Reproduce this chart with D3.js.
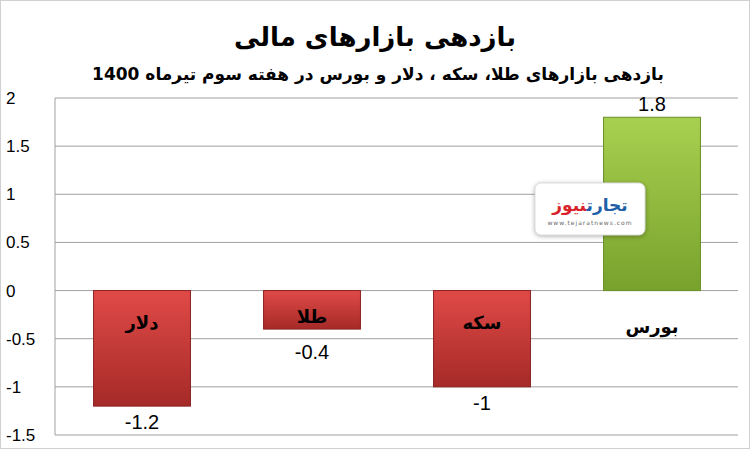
<!DOCTYPE html>
<html><head><meta charset="utf-8">
<script src="https://cdn.jsdelivr.net/npm/d3@7"></script>
<style>body{margin:0;background:#fff}</style>
</head><body>
<svg id="chart" width="750" height="449"></svg>
<script>
const categories = ["دلار", "طلا", "سکه", "بورس"];
const values = [-1.2, -0.4, -1, 1.8];
const valueLabels = ["-1.2", "-0.4", "-1", "1.8"];
const yTicks = [-1.5, -1, -0.5, 0, 0.5, 1, 1.5, 2];

const svg = d3.select("#chart");
const x = d3.scaleBand().domain(categories).range([57, 737]).paddingInner(0.43).paddingOuter(0.215);
const y = d3.scaleLinear().domain([-1.5, 2]).range([435, 98]);

const defs = svg.append("defs");
function grad(id, c1, c2) {
  const g = defs.append("linearGradient").attr("id", id).attr("x1", 0).attr("x2", 0).attr("y1", 0).attr("y2", 1);
  g.append("stop").attr("offset", "0%").attr("stop-color", c1);
  g.append("stop").attr("offset", "100%").attr("stop-color", c2);
}
grad("red", "#e04a47", "#a52a28");
grad("green", "#a8d050", "#78a22c");

svg.append("rect").attr("x", 0.5).attr("y", 0.5).attr("width", 749).attr("height", 448)
  .attr("fill", "#fff").attr("stroke", "#d0d0d0");

svg.append("text").attr("x", 375).attr("y", 46).attr("text-anchor", "middle")
  .attr("font-family", "DejaVu Sans").attr("font-weight", "bold").attr("font-size", 26)
  .text("بازدهی بازارهای مالی");
svg.append("text").attr("x", 378).attr("y", 80).attr("text-anchor", "middle")
  .attr("font-family", "DejaVu Sans").attr("font-weight", "bold").attr("font-size", 17)
  .text("بازدهی بازارهای طلا، سکه ، دلار و بورس در هفته سوم تیرماه 1400");

// gridlines
svg.append("g").selectAll("line").data(yTicks).join("line")
  .attr("x1", 55).attr("x2", 738).attr("y1", d => y(d)).attr("y2", d => y(d))
  .attr("stroke", "#a0a0a0").attr("stroke-width", 1);
svg.append("line").attr("x1", 55).attr("x2", 55).attr("y1", y(2)).attr("y2", y(-1.5)).attr("stroke", "#a0a0a0");

const yAxis = svg.append("g").attr("transform", "translate(50,0)")
  .call(d3.axisLeft(y).tickValues(yTicks).tickSize(0).tickPadding(4).tickFormat(d => String(d)));
yAxis.select(".domain").remove();
yAxis.selectAll("text").attr("font-family", "Liberation Sans").attr("font-size", 17).attr("fill", "#000")
  .attr("text-anchor", "start").attr("x", -44);

const bars = svg.append("g").selectAll("g").data(categories).join("g");
bars.append("rect")
  .attr("x", d => x(d)).attr("width", x.bandwidth())
  .attr("y", (d, i) => y(Math.max(0, values[i])))
  .attr("height", (d, i) => Math.abs(y(values[i]) - y(0)))
  .attr("fill", (d, i) => values[i] < 0 ? "url(#red)" : "url(#green)")
  .attr("stroke", (d, i) => values[i] < 0 ? "#8a2220" : "#6a8f25").attr("stroke-width", 1);

bars.append("text")
  .attr("x", d => x(d) + x.bandwidth() / 2)
  .attr("y", (d, i) => values[i] < 0 ? Math.max(y(values[i]) + 23, y(0) + 68) : y(values[i]) - 6)
  .attr("text-anchor", "middle").attr("font-family", "Liberation Sans").attr("font-size", 20)
  .text((d, i) => valueLabels[i]);

bars.append("text")
  .attr("x", d => x(d) + x.bandwidth() / 2)
  .attr("y", (d, i) => values[i] < 0 ? y(0) + 38 - (values[i] > -0.5 ? 6 : 0) : y(0) + 42)
  .attr("text-anchor", "middle").attr("font-family", "DejaVu Sans").attr("font-weight", "bold").attr("font-size", 18)
  .text(d => d);

// logo
const logo = svg.append("g").attr("transform", "translate(535,183)");
logo.append("rect").attr("width", 110).attr("height", 52).attr("rx", 6).attr("fill", "#fff")
  .attr("stroke", "#ddd").style("filter", "drop-shadow(0 1px 2px rgba(0,0,0,0.3))");
logo.append("text").attr("x", 55).attr("y", 28).attr("text-anchor", "middle")
  .attr("font-family", "DejaVu Sans").attr("font-weight", "bold").attr("font-size", 17)
  .html('<tspan fill="#1f5fa8">تجارت</tspan><tspan fill="#d8232a">نیوز</tspan>');
logo.append("text").attr("x", 55).attr("y", 42).attr("text-anchor", "middle")
  .attr("font-family", "DejaVu Sans").attr("font-size", 6).attr("fill", "#666")
  .attr("letter-spacing", 1).text("www.tejaratnews.com");
</script>
</body></html>
